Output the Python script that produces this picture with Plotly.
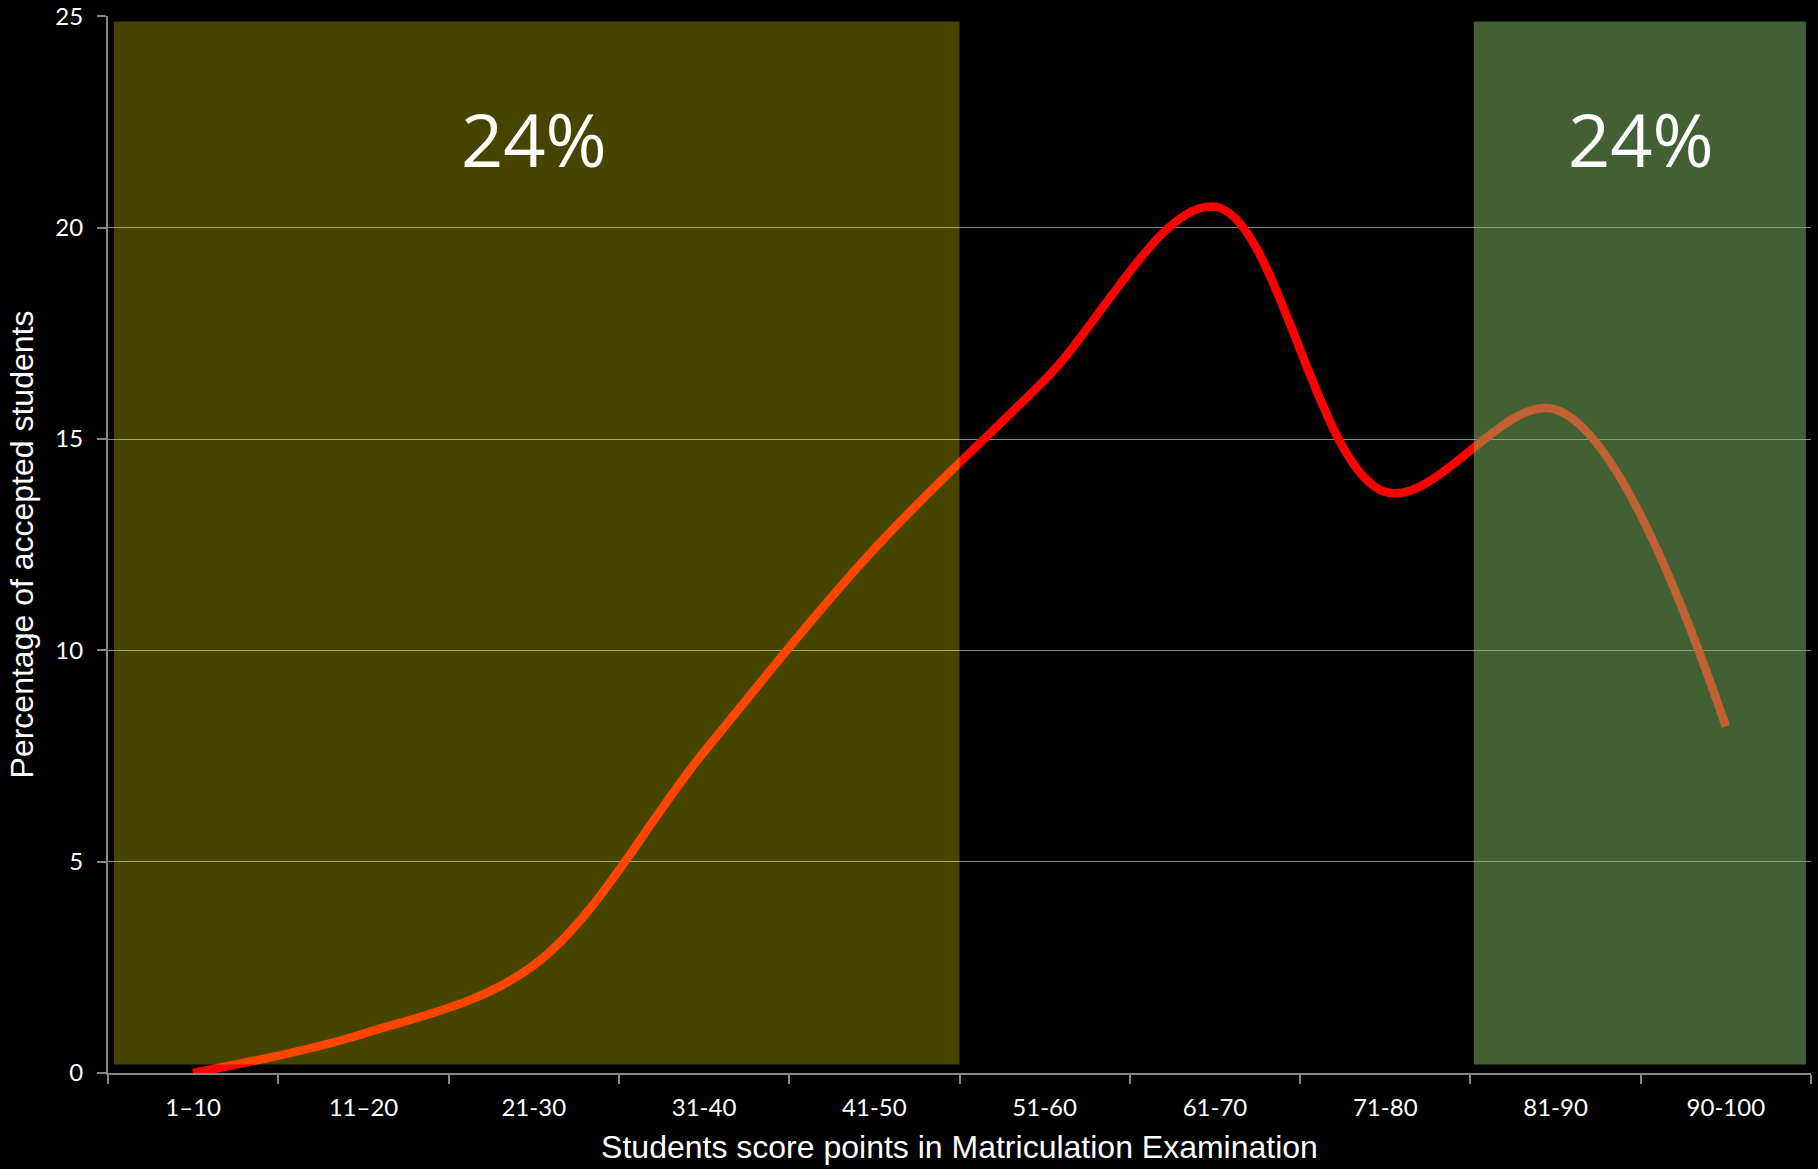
import plotly.graph_objects as go

categories = ["1–10", "11–20", "21-30", "31-40", "41-50", "51-60", "61-70", "71-80", "81-90", "90-100"]
percent_accepted = [0.0, 0.93, 2.55, 7.6, 12.4, 16.4, 20.5, 13.75, 15.7, 8.2]

band_labels = ["24%", "24%"]
band_label_cats = [2, 8.5]
band_label_y = 22.1

fig = go.Figure()

fig.add_trace(go.Scatter(
    x=list(range(len(categories))), y=percent_accepted,
    mode="lines",
    line=dict(color="#FF0000", width=8.5, shape="spline", smoothing=1.0),
    showlegend=False, hoverinfo="skip",
))

# translucent highlight bands drawn above the curve
fig.add_shape(type="rect", xref="x", yref="y", x0=-0.465, x1=4.5, y0=0.2, y1=24.88,
              fillcolor="rgba(255,255,0,0.27)", line=dict(width=0), layer="above")
fig.add_shape(type="rect", xref="x", yref="y", x0=7.52, x1=9.47, y0=0.2, y1=24.88,
              fillcolor="rgba(130,190,101,0.506)", line=dict(width=0), layer="above")

for txt, xc in zip(band_labels, band_label_cats):
    fig.add_annotation(x=xc, y=band_label_y, xref="x", yref="y", text=txt, showarrow=False,
                       font=dict(family="Open Sans", size=74, color="white"))

fig.update_layout(
    width=1818, height=1169,
    paper_bgcolor="black", plot_bgcolor="black",
    margin=dict(l=108, r=7, t=16, b=96),
    showlegend=False,
)

fig.update_xaxes(
    tickmode="array", tickvals=list(range(len(categories))), ticktext=categories,
    range=[-0.5, 9.5], automargin=False,
    showgrid=False, zeroline=False,
    showline=True, linecolor="#868686", linewidth=2,
    ticks="",
    tickfont=dict(family="Lato", size=24, color="white"),
    ticklabelstandoff=12,
    title=dict(text="Students score points in Matriculation Examination",
               font=dict(family="Liberation Sans, Arial", size=32, color="white"), standoff=16),
    minor=dict(tickmode="array", tickvals=[i - 0.5 for i in range(len(categories) + 1)],
               ticks="outside", ticklen=9, tickcolor="#868686", tickwidth=2, showgrid=False),
)

fig.update_yaxes(
    range=[0, 25.01], tickvals=[0, 5, 10, 15, 20, 25], automargin=False,
    showgrid=True, gridcolor="#868686", gridwidth=1.3,
    zeroline=False,
    showline=True, linecolor="#868686", linewidth=2,
    ticks="outside", ticklen=9, tickcolor="#868686", tickwidth=2,
    tickfont=dict(family="Lato", size=24, color="white"),
    ticklabelstandoff=9,
    title=dict(text="Percentage of accepted students",
               font=dict(family="Liberation Sans, Arial", size=32, color="white"), standoff=12),
)

fig.write_html("out.html")
